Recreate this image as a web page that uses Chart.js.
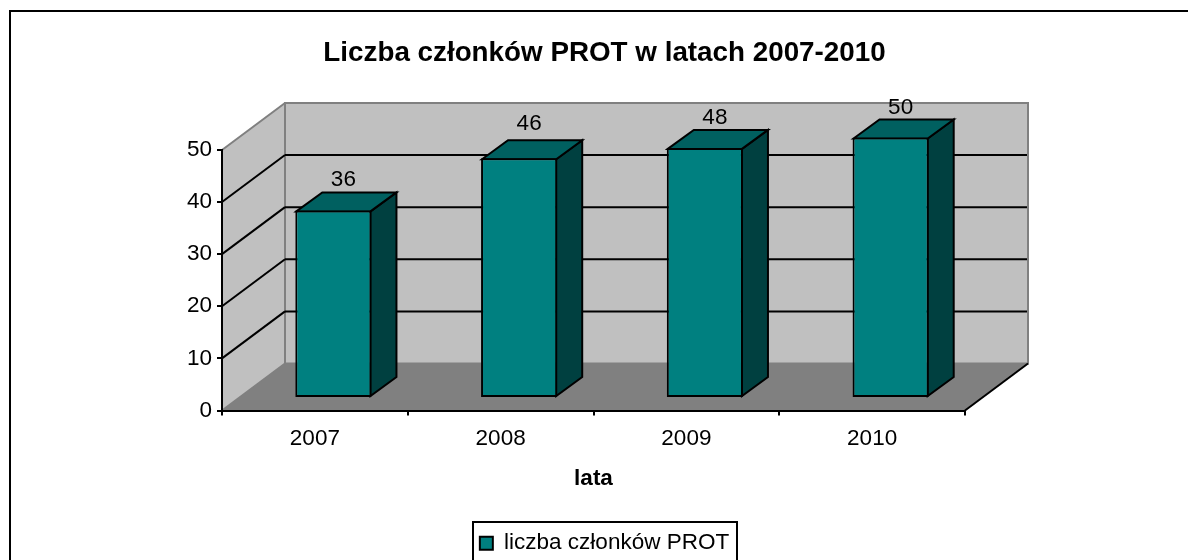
<!DOCTYPE html>
<html lang="pl">
<head>
<meta charset="utf-8">
<title>Liczba członków PROT</title>
<script src="https://cdn.jsdelivr.net/npm/chart.js@4/dist/chart.umd.min.js"></script>
<style>
    html, body { margin: 0; padding: 0; background: #ffffff; overflow: hidden; }
    canvas { display: block; }
</style>
</head>
<body>
<canvas id="chart" width="1188" height="560"></canvas>
<script>
const years = ['2007', '2008', '2009', '2010'];
const members = [36, 46, 48, 50];
const seriesName = 'liczba członków PROT';
const chartTitle = 'Liczba członków PROT w latach 2007-2010';
const xAxisTitle = 'lata';

const colors = {
    wall: '#c0c0c0',
    floor: '#808080',
    wallEdge: '#808080',
    barFront: '#008080',
    barTop: '#006060',
    barSide: '#004040',
    ink: '#000000',
};

const fontFamily = "'Liberation Sans', Arial, sans-serif";

// fake 3D: how far the back wall and the bars sit behind the front plane
const wallDepth = { x: 63, y: -47 };
const barShift = { x: 18.5, y: -12.5 };
const barDepth = { x: 26, y: -19 };
const labelLift = [-31, -35, -30, -30];

const polygon = (ctx, points, fill, stroke, width) => {
    ctx.beginPath();
    points.forEach(([x, y], i) => (i ? ctx.lineTo(x, y) : ctx.moveTo(x, y)));
    ctx.closePath();
    if (fill) {
        ctx.fillStyle = fill;
        ctx.fill();
    }
    if (stroke) {
        ctx.strokeStyle = stroke;
        ctx.lineWidth = width;
        ctx.lineJoin = 'miter';
        ctx.stroke();
    }
};

const line = (ctx, x1, y1, x2, y2, color, width) => {
    ctx.beginPath();
    ctx.moveTo(x1, y1);
    ctx.lineTo(x2, y2);
    ctx.strokeStyle = color;
    ctx.lineWidth = width;
    ctx.stroke();
};

const scene3d = {
    id: 'scene3d',

    beforeDraw(chart) {
        const { ctx, chartArea: a, scales } = chart;
        const dx = wallDepth.x;
        const dy = wallDepth.y;

        ctx.save();
        // frame of the chart object, its right and bottom edges are cut off
        line(ctx, 10, 11, 1188, 11, colors.ink, 2);
        line(ctx, 10, 10, 10, 560, colors.ink, 2);

        polygon(ctx, [[a.left, a.top], [a.left + dx, a.top + dy], [a.left + dx, a.bottom + dy], [a.left, a.bottom]], colors.wall);
        polygon(ctx, [[a.left + dx, a.top + dy], [a.right + dx, a.top + dy], [a.right + dx, a.bottom + dy], [a.left + dx, a.bottom + dy]], colors.wall, colors.wallEdge, 2);
        polygon(ctx, [[a.left, a.bottom], [a.left + dx, a.bottom + dy], [a.right + dx, a.bottom + dy], [a.right, a.bottom]], colors.floor);

        scales.y.ticks.forEach((tick) => {
            const y = scales.y.getPixelForValue(tick.value);
            if (tick.value === scales.y.min || tick.value === scales.y.max) return;
            line(ctx, a.left, y, a.left + dx, y + dy, colors.ink, 2);
            line(ctx, a.left + dx, y + dy, a.right + dx - 1, y + dy, colors.ink, 2);
        });

        line(ctx, a.left, a.top, a.left + dx, a.top + dy, colors.wallEdge, 2);
        line(ctx, a.left, a.bottom, a.left + dx, a.bottom + dy, colors.wallEdge, 2);
        line(ctx, a.right, a.bottom, a.right + dx, a.bottom + dy, colors.ink, 2);
        ctx.restore();
    },

    beforeDatasetDraw(chart, args) {
        const { ctx } = chart;
        ctx.save();
        ctx.translate(barShift.x, barShift.y);
        args.meta.data.forEach((bar) => {
            const { x, y, base, width } = bar.getProps(['x', 'y', 'base', 'width']);
            const left = x - width / 2;
            const right = x + width / 2;
            const dx = barDepth.x;
            const dy = barDepth.y;
            polygon(ctx, [[right - 1, y + 1], [right - 1 + dx, y + 1 + dy], [right - 1 + dx, base - 1 + dy], [right - 1, base - 1]], colors.barSide, colors.ink, 2);
            polygon(ctx, [[left + 1, y + 1], [left + 1 + dx, y + 1 + dy], [right - 1 + dx, y + 1 + dy], [right - 1, y + 1]], colors.barTop, colors.ink, 2);
        });
    },

    afterDatasetDraw(chart) {
        chart.ctx.restore();
    },

    afterDatasetsDraw(chart) {
        const { ctx } = chart;
        const bars = chart.getDatasetMeta(0).data;
        ctx.save();
        ctx.font = '22.5px ' + fontFamily;
        ctx.fillStyle = colors.ink;
        ctx.textAlign = 'center';
        ctx.textBaseline = 'middle';
        bars.forEach((bar, i) => {
            const { x, y } = bar.getProps(['x', 'y']);
            ctx.fillText(members[i], x + barShift.x + 10, y + barShift.y + labelLift[i]);
        });
        ctx.restore();
    },

    afterDraw(chart) {
        // Excel style frame round the legend
        const { ctx, legend } = chart;
        const hit = legend.legendHitBoxes[0];
        ctx.save();
        ctx.strokeStyle = colors.ink;
        ctx.lineWidth = 2;
        ctx.strokeRect(Math.round(hit.left + hit.width / 2) - 132, Math.floor(legend.top), 264, 60);
        ctx.restore();
    },
};

new Chart(document.getElementById('chart').getContext('2d'), {
    type: 'bar',
    data: {
        labels: years,
        datasets: [{
            label: seriesName,
            data: members,
            backgroundColor: colors.barFront,
            borderColor: colors.ink,
            borderWidth: 2,
            borderSkipped: false,
            barPercentage: 0.41,
            categoryPercentage: 1,
        }],
    },
    plugins: [scene3d],
    options: {
        responsive: false,
        animation: false,
        // legend box hangs over the bottom edge, as it is cut off in the picture
        layout: { padding: { left: 21, right: 0, top: 0, bottom: -4.5 } },
        scales: {
            x: {
                grid: { drawOnChartArea: false, color: colors.ink, lineWidth: 2, tickLength: 5 },
                border: { color: colors.ink, width: 2 },
                ticks: { color: colors.ink, padding: 10, maxRotation: 0, font: { family: fontFamily, size: 22.5 } },
                title: {
                    display: true,
                    text: xAxisTitle,
                    color: colors.ink,
                    padding: { top: 0, bottom: 30 },
                    font: { family: fontFamily, size: 22.5, weight: 'bold' },
                },
                afterFit: (scale) => { scale.height = 111.5; },
            },
            y: {
                min: 0,
                max: 50,
                grid: { drawOnChartArea: false, color: colors.ink, lineWidth: 2, tickLength: 5 },
                border: { color: colors.ink, width: 2 },
                ticks: { stepSize: 10, color: colors.ink, padding: 5, font: { family: fontFamily, size: 22.5 } },
                afterFit: (scale) => { scale.width = 201; },
            },
            // empty axis, only keeps the plot clear of the right side while title and legend stay centred
            rightGap: {
                position: 'right',
                grid: { display: false },
                border: { display: false },
                ticks: { display: false },
                afterFit: (scale) => { scale.width = 223; },
            },
        },
        plugins: {
            title: {
                display: true,
                text: chartTitle,
                color: colors.ink,
                padding: { top: 37, bottom: 79.6 },
                font: { family: fontFamily, size: 27.8, weight: 'bold' },
            },
            legend: {
                position: 'bottom',
                labels: {
                    color: colors.ink,
                    boxWidth: 13,
                    boxHeight: 13,
                    padding: 10,
                    font: { family: fontFamily, size: 22.5 },
                },
            },
            tooltip: { enabled: false },
        },
    },
});
</script>
</body>
</html>
